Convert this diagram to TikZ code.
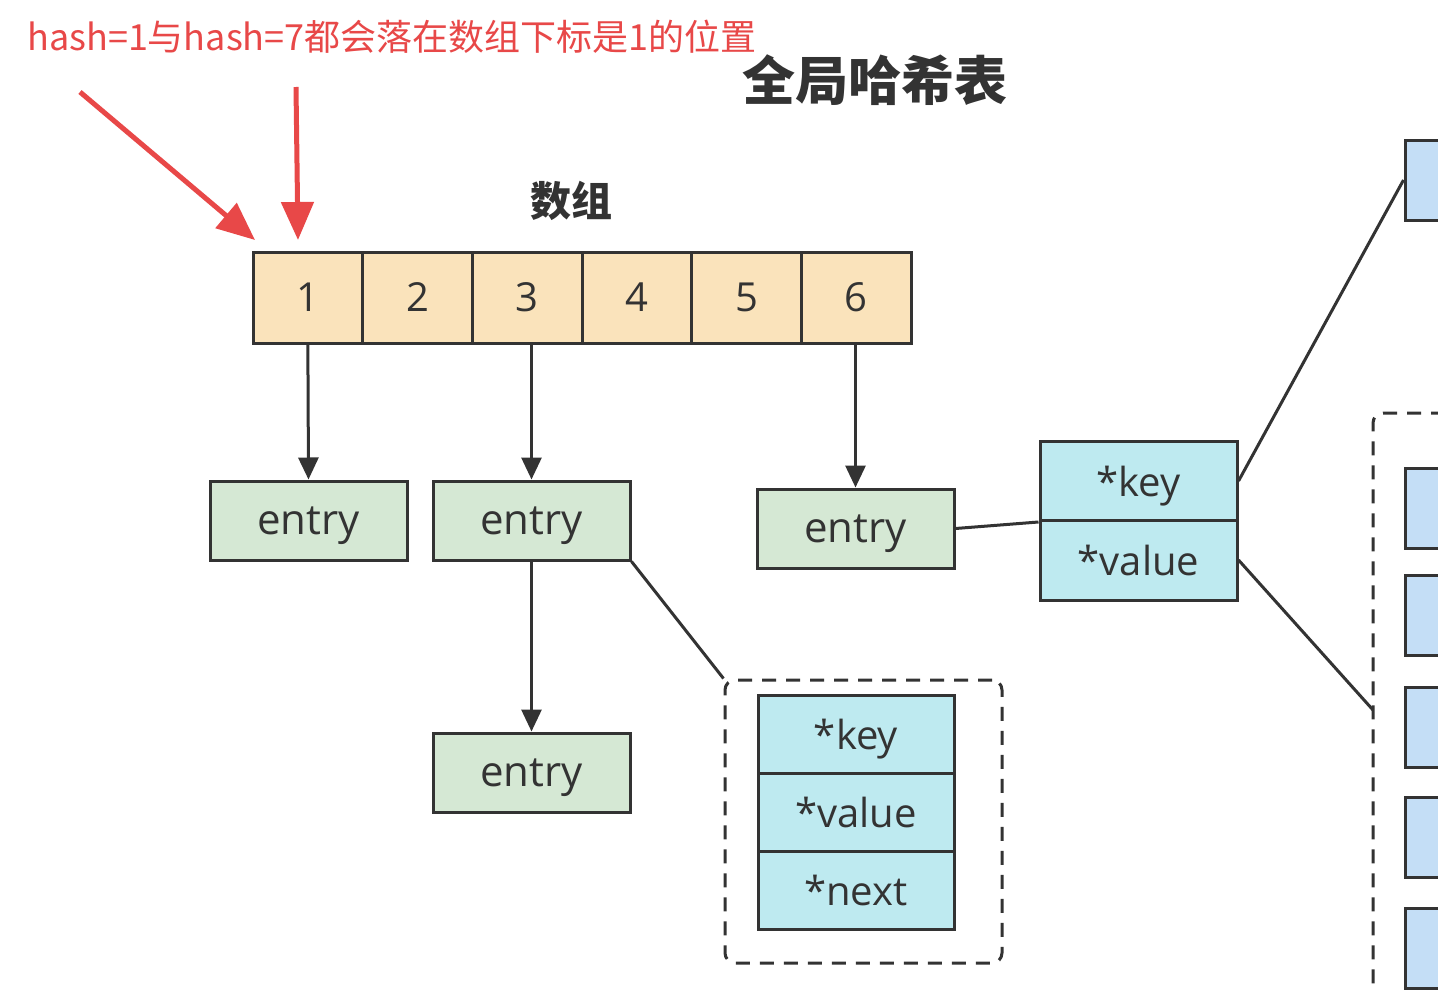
\documentclass[tikz,border=0pt]{standalone}
\usepackage{fontspec}
\setmainfont{Open Sans}
\newfontfamily\cjk{Noto Sans CJK SC}
\usetikzlibrary{arrows.meta,calc}
\definecolor{dk}{RGB}{51,51,51}
\definecolor{orng}{RGB}{250,227,187}
\definecolor{grn}{RGB}{213,232,212}
\definecolor{cyn}{RGB}{190,234,240}
\definecolor{blu}{RGB}{196,222,246}
\definecolor{redc}{RGB}{232,72,72}
\tikzset{
  cell/.style={draw=dk, fill=orng, line width=3pt, minimum width=109.7pt, minimum height=91pt, inner sep=0pt, text=dk, font=\fontsize{40}{44}\selectfont},
  entrybox/.style={draw=dk, fill=grn, line width=3pt, minimum width=197pt, minimum height=79pt, inner sep=0pt, text=dk, text depth=0pt, font=\fontsize{42}{46}\selectfont},
  fieldbox/.style={draw=dk, fill=cyn, line width=3pt, minimum width=196pt, minimum height=78pt, inner sep=0pt, text=dk, text depth=0pt, font=\fontsize{40}{44}\selectfont},
  bluebox/.style={draw=dk, fill=blu, line width=3pt, minimum width=115pt, minimum height=80pt, inner sep=0pt},
  dashbox/.style={draw=dk, line width=3pt, dash pattern=on 14pt off 10pt, rounded corners=10pt, inner sep=0pt},
  conn/.style={draw=dk, line width=3pt},
  arr/.style={conn, -{Triangle[length=22pt,width=20pt]}},
  redarr/.style={draw=redc, line width=5pt, -{Triangle[length=38pt,width=32pt]}},
}
\begin{document}
\begin{tikzpicture}[x=1pt,y=-1pt]
\useasboundingbox (0,0) rectangle (1438,990);
\clip (0,0) rectangle (1438,990);
\fill[white] (0,0) rectangle (1438,990);

% title texts
\node[text=redc, font=\cjk\fontsize{36}{40}\selectfont, anchor=west, inner sep=0pt] (note) at (27,37) {hash=1与hash=7都会落在数组下标是1的位置};
\node[text=dk, font=\cjk\bfseries\fontsize{53}{56}\selectfont, inner sep=0pt] (title) at (875,80) {全局哈希表};
\node[text=dk, font=\cjk\bfseries\fontsize{41}{44}\selectfont, inner sep=0pt] (arrlabel) at (571,201) {数组};

% array cells
\foreach \i in {1,...,6} {
  \node[cell] (c\i) at ({253+109.7*(\i-0.5)},297.5) {\i};
}

% entries
\node[entrybox] (e1) at (308.5,520.5) {entry};
\node[entrybox] (e2) at (531.5,520.5) {entry};
\node[entrybox] (e3) at (531.5,772.5) {entry};
\node[entrybox] (e4) at (855.5,528.5) {entry};

% dashed struct box
\node[dashbox, minimum width=277pt, minimum height=283pt] (db1) at (863.5,821.5) {};
\node[fieldbox] (k1) at (856,734) {*key};
\node[fieldbox] (v1) at (856,812) {*value};
\node[fieldbox] (n1) at (856,890) {*next};

% key/value box
\node[fieldbox, minimum width=197pt, minimum height=79pt] (k2) at (1138.5,481) {*key};
\node[fieldbox, minimum width=197pt, minimum height=80pt] (v2) at (1138.5,560) {*value};

% right side
\node[bluebox] (b0) at (1462.5,180) {};
\node[dashbox, minimum width=130pt, minimum height=700pt] (db2) at (1438,763) {};
\foreach \y [count=\j] in {508.5,615,727,837,948} {
  \node[bluebox] (b\j) at (1462.5,\y) {};
}
\coordinate (db2in) at (1373,710);

% connectors
\draw[arr] (c1.south) -- (e1.north);
\draw[arr] (c3.south -| e2.north) -- (e2.north);
\draw[arr] (c6.south -| e4.north) -- (e4.north);
\draw[arr] (e2.south) -- (e3.north);
\draw[conn] (e2.south east) -- (db1.north west);
\draw[conn] (e4.east) -- (k2.south west);
\draw[conn] (k2.east) -- (b0.west);
\draw[conn] (v2.east) -- (db2in);

% red arrows
\coordinate (r1s) at (80,92);
\coordinate (r1e) at (255,240);
\coordinate (r2s) at (296,87);
\coordinate (r2e) at (298,240);
\draw[redarr] (r1s) -- (r1e);
\draw[redarr] (r2s) -- (r2e);
\end{tikzpicture}
\end{document}
